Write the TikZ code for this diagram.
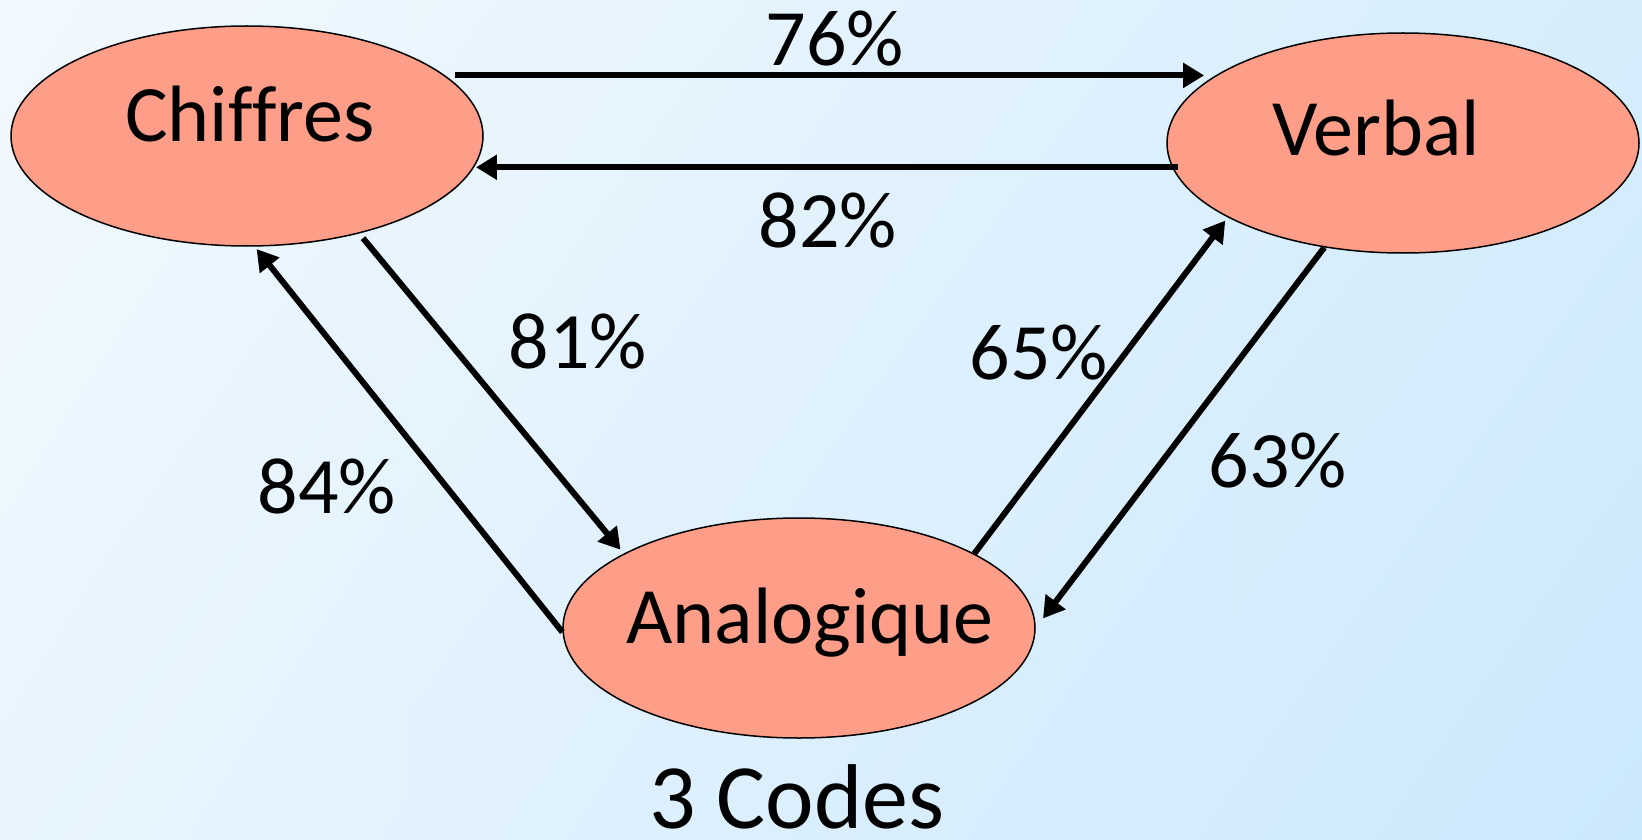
\documentclass[tikz,border=0pt]{standalone}
\usepackage{fontspec}
\setmainfont{Carlito}[Ligatures=NoCommon]
\usetikzlibrary{shapes.geometric,arrows.meta,shadings}
\definecolor{salmon}{HTML}{FF9E88}
\definecolor{bgA}{HTML}{F2F9FE}
\definecolor{bgB}{HTML}{D6EDFC}
\definecolor{bgC}{HTML}{E8F5FE}
\definecolor{bgD}{HTML}{CCE8FC}
\begin{document}
\begin{tikzpicture}[x=1pt,y=-1pt,
  oval/.style={ellipse, draw=black, line width=1.5pt, fill=salmon, minimum width=472pt, minimum height=220pt, inner sep=0pt},
  lbl/.style={font=\fontsize{80}{96}\selectfont, inner sep=0pt},
  pct/.style={font=\fontsize{80}{96}\selectfont, inner sep=0pt},
  arr/.style={line width=6pt, -{Triangle[length=21pt,width=24pt]}}]
\useasboundingbox (0,0) rectangle (1642,840);
\shade[upper left=bgA, upper right=bgB, lower left=bgC, lower right=bgD] (0,0) rectangle (1642,840);
% ellipses
\node[oval] (chif) at (247,136) {};
\node[oval] (verb) at (1403,143) {};
\node[oval] (anal) at (799,628) {};
% ellipse texts
\node[lbl, anchor=base] (tchif) at (250,142) {Chif\kern0pt fres};
\node[lbl, anchor=base] (tverb) at (1376,156) {Verbal};
\node[lbl, anchor=base] (tanal) at (810,643) {Analogique};
\node[font=\fontsize{92}{110}\selectfont, inner sep=0pt, anchor=base] (title) at (797,828) {3 Codes};
% connectors
\draw[arr, shorten <=10pt, shorten >=12pt] (chif.17) -- (chif.17 -| verb.160.3);
\draw[arr, shorten <=-6pt] (verb.186) -- (verb.186 -| chif.-7.8);
\draw[arr, shorten <=6pt, shorten >=5pt] (chif.-41) -- (anal.157);
\draw[arr, shorten >=3pt] (anal.181) -- (chif.-86);
\draw[arr, shorten >=4pt] (anal.23) -- (verb.203);
\draw[arr, shorten >=12pt] (verb.233) -- (anal.east);
% labels
\node[pct] (p76) at (835,39) {76\%};
\node[pct] (p82) at (828,221) {82\%};
\node[pct] (p81) at (578,342) {81\%};
\node[pct] (p84) at (327,487) {84\%};
\node[pct] (p65) at (1039,353) {65\%};
\node[pct] (p63) at (1278,461) {63\%};
\end{tikzpicture}
\end{document}
